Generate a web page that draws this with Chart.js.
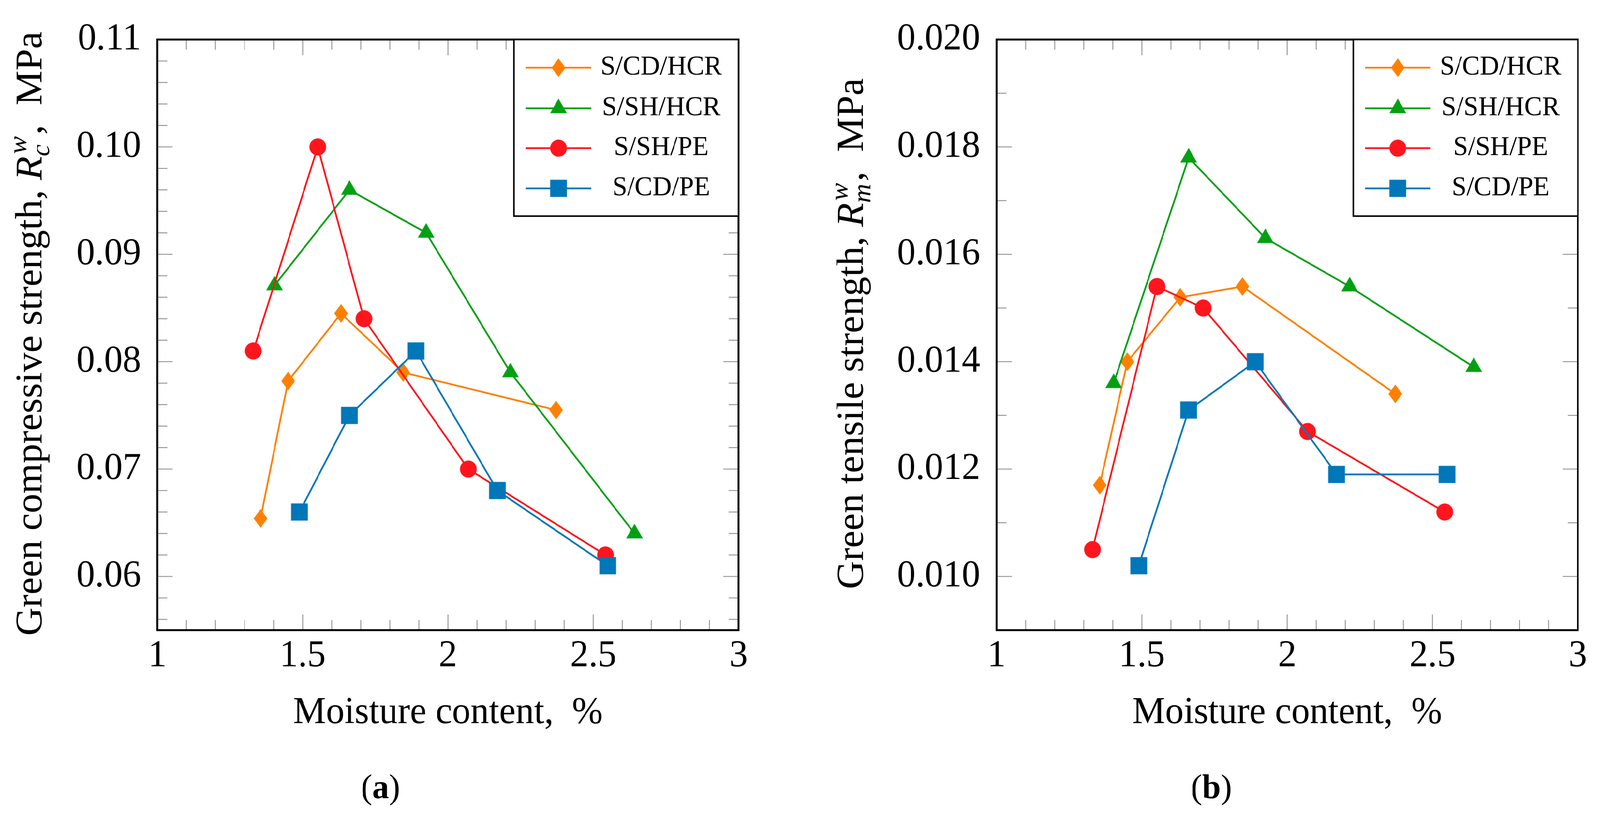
<!DOCTYPE html>
<html>
<head>
<meta charset="utf-8">
<script src="https://cdn.jsdelivr.net/npm/chart.js@4.4.0/dist/chart.umd.min.js"></script>
<style>
html, body { margin: 0; padding: 0; background: #fff; overflow: hidden; }
#page { position: absolute; left: 0; top: 0; width: 4204px; height: 2099px; transform-origin: 0 0; }
#wrapA { position: absolute; left: 0; top: 0; width: 2100px; height: 2099px; }
#wrapB { position: absolute; left: 2100px; top: 0; width: 2104px; height: 2099px; }
</style>
</head>
<body>
<div id="page">
<div id="wrapA"><canvas id="chartA"></canvas></div>
<div id="wrapB"><canvas id="chartB"></canvas></div>
</div>
<script>
// the viewport may be narrower than 4204px: fit the page into it
(function () {
    var sx = window.innerWidth / 4204, sy = window.innerHeight / 2099;
    if (Math.abs(sx - 1) > 0.002 || Math.abs(sy - 1) > 0.002) {
        document.getElementById('page').style.transform = 'scale(' + sx + ',' + sy + ')';
    }
})();

// series names / colours
var seriesNames = ['S/CD/HCR', 'S/SH/HCR', 'S/SH/PE', 'S/CD/PE'];
var seriesColors = ['#ff8000', '#00a012', '#ff151d', '#0077b8'];

// moisture content, %
var moistCDHCR = [1.355, 1.45, 1.632, 1.846, 2.372];
var moistSHHCR = [1.403, 1.661, 1.925, 2.215, 2.642];
var moistSHPE  = [1.33, 1.552, 1.711, 2.07, 2.542];
var moistCDPE  = [1.489, 1.661, 1.89, 2.17, 2.55];

// green compressive strength, MPa
var compCDHCR = [0.0654, 0.0782, 0.0845, 0.0790, 0.0755];
var compSHHCR = [0.0871, 0.0960, 0.0920, 0.0790, 0.0640];
var compSHPE  = [0.0810, 0.1000, 0.0840, 0.0700, 0.0620];
var compCDPE  = [0.0660, 0.0750, 0.0810, 0.0680, 0.0610];

// green tensile strength, MPa
var tensCDHCR = [0.0117, 0.0140, 0.0152, 0.0154, 0.0134];
var tensSHHCR = [0.0136, 0.0178, 0.0163, 0.0154, 0.0139];
var tensSHPE  = [0.0105, 0.0154, 0.0150, 0.0127, 0.0112];
var tensCDPE  = [0.0102, 0.0131, 0.0140, 0.0119, 0.0119];

// ticks
var xTicks = [1, 1.5, 2, 2.5, 3];
var xTickLabels = ['1', '1.5', '2', '2.5', '3'];
var compTicks = [0.06, 0.07, 0.08, 0.09, 0.10, 0.11];
var compTickLabels = ['0.06', '0.07', '0.08', '0.09', '0.10', '0.11'];
var tensTicks = [0.010, 0.012, 0.014, 0.016, 0.018, 0.020];
var tensTickLabels = ['0.010', '0.012', '0.014', '0.016', '0.018', '0.020'];

var SERIF = "'Liberation Serif', 'DejaVu Serif', serif";

// marker pictures (pgfplots style marks)
function markerCanvas(shape, color) {
    var c = document.createElement('canvas');
    var w = 45, h = 45;
    if (shape === 'diamond') { w = 36; h = 48; }
    if (shape === 'triangle') { w = 44; h = 50; }
    c.width = w; c.height = h;
    var g = c.getContext('2d');
    g.fillStyle = color;
    g.beginPath();
    if (shape === 'diamond') {
        g.moveTo(w / 2, 0); g.lineTo(w, h / 2); g.lineTo(w / 2, h); g.lineTo(0, h / 2);
    } else if (shape === 'triangle') {
        g.moveTo(w / 2, 0); g.lineTo(w, 37.5); g.lineTo(0, 37.5);
    } else if (shape === 'circle') {
        g.arc(w / 2, h / 2, 22, 0, Math.PI * 2);
    } else {
        g.rect(0.5, 0.5, 44, 44);
    }
    g.closePath();
    g.fill();
    return c;
}
var markers = [
    markerCanvas('diamond', seriesColors[0]),
    markerCanvas('triangle', seriesColors[1]),
    markerCanvas('circle', seriesColors[2]),
    markerCanvas('square', seriesColors[3])
];

function pts(xs, ys) {
    return xs.map(function (x, i) { return { x: x, y: ys[i] }; });
}

function makeDatasets(xsList, ysList) {
    return xsList.map(function (xs, i) {
        return {
            label: seriesNames[i],
            data: pts(xs, ysList[i]),
            borderColor: seriesColors[i],
            backgroundColor: seriesColors[i],
            borderWidth: 4.5,
            pointStyle: markers[i],
            pointRadius: 22,
            pointHoverRadius: 22,
            tension: 0,
            fill: false,
            order: 4 - i // later series on top, like pgfplots
        };
    });
}

function range(start, stop, step) {
    var out = [];
    var n = Math.round((stop - start) / step);
    for (var i = 0; i <= n; i++) out.push(+(start + i * step).toFixed(6));
    return out;
}

// frame, inward ticks on all four sides, legend and titles
var framePlugin = {
    id: 'frame',
    beforeDatasetsDraw: function (chart, args, o) {
        var ctx = chart.ctx, a = chart.chartArea;
        var xs = chart.scales.x, ys = chart.scales.y;
        ctx.save();
        ctx.strokeStyle = '#8c8c8c';
        ctx.lineWidth = 2.2;
        ctx.beginPath();
        o.xMinor.forEach(function (v) {
            var len = xTicks.indexOf(v) >= 0 ? 40 : 26;
            var px = xs.getPixelForValue(v);
            ctx.moveTo(px, a.bottom); ctx.lineTo(px, a.bottom - len);
            ctx.moveTo(px, a.top); ctx.lineTo(px, a.top + len);
        });
        o.yMinor.forEach(function (v) {
            var major = o.yMajor.some(function (m) { return Math.abs(m - v) < 1e-7; });
            var len = major ? 40 : 26;
            var py = ys.getPixelForValue(v);
            ctx.moveTo(a.left, py); ctx.lineTo(a.left + len, py);
            ctx.moveTo(a.right, py); ctx.lineTo(a.right - len, py);
        });
        ctx.stroke();
        ctx.restore();
    },
    afterDraw: function (chart, args, o) {
        var ctx = chart.ctx, a = chart.chartArea;
        ctx.save();
        // frame
        ctx.strokeStyle = '#000';
        ctx.lineWidth = 5;
        ctx.strokeRect(a.left, a.top, a.right - a.left, a.bottom - a.top);

        // legend box
        var bw = 590, bh = 452, bx = a.right - bw, by = a.top;
        ctx.fillStyle = '#fff';
        ctx.fillRect(bx, by, bw, bh);
        ctx.lineWidth = 4;
        ctx.strokeRect(bx, by, bw, bh);
        var rows = [72, 176, 278, 381];
        ctx.font = '70px ' + SERIF;
        ctx.textAlign = 'center';
        ctx.textBaseline = 'alphabetic';
        seriesNames.forEach(function (name, i) {
            var ry = by + rows[i];
            ctx.strokeStyle = seriesColors[i];
            ctx.lineWidth = 4.5;
            ctx.beginPath();
            ctx.moveTo(bx + 31, ry); ctx.lineTo(bx + 203, ry);
            ctx.stroke();
            var m = markers[i];
            ctx.drawImage(m, bx + 117 - m.width / 2, ry - m.height / 2);
            ctx.fillStyle = '#000';
            ctx.fillText(name, bx + 387, ry + 18);
        });

        // x title
        ctx.fillStyle = '#000';
        ctx.font = '97px ' + SERIF;
        ctx.textAlign = 'center';
        ctx.fillText('Moisture content,  %', (a.left + a.right) / 2, 1851);

        // panel label
        ctx.textAlign = 'left';
        ctx.font = '88px ' + SERIF;
        var wo = ctx.measureText('(').width, wc = ctx.measureText(')').width;
        ctx.font = 'bold 88px ' + SERIF;
        var wl = ctx.measureText(o.panel).width;
        var sx = o.panelX - (wo + wl + wc) / 2;
        ctx.font = '88px ' + SERIF;
        ctx.fillText('(', sx, 2043);
        ctx.font = 'bold 88px ' + SERIF;
        ctx.fillText(o.panel, sx + wo, 2043);
        ctx.font = '88px ' + SERIF;
        ctx.fillText(')', sx + wo + wl, 2043);

        // y title with R^w_sub
        var fMain = '100px ' + SERIF, fR = 'italic 100px ' + SERIF, fS = 'italic 68px ' + SERIF;
        ctx.font = fMain;
        var w1 = ctx.measureText(o.yMain).width, w3 = ctx.measureText(o.yTail).width;
        ctx.font = fR;
        var w2 = ctx.measureText('R').width;
        ctx.font = fS;
        var wSup = ctx.measureText('w').width, wSub = ctx.measureText(o.ySub).width;
        var wScr = Math.max(wSup + 6, wSub) + 4;
        var total = w1 + w2 + wScr + w3;
        ctx.translate(o.yTitleX, (a.top + a.bottom) / 2 - 3);
        ctx.rotate(-Math.PI / 2);
        var cx = -total / 2;
        ctx.font = fMain; ctx.fillText(o.yMain, cx, 0); cx += w1;
        ctx.font = fR; ctx.fillText('R', cx, 0); cx += w2;
        ctx.font = fS;
        ctx.fillText('w', cx + 6, -40);
        ctx.fillText(o.ySub, cx, 20);
        cx += wScr;
        ctx.font = fMain; ctx.fillText(o.yTail, cx, 0);
        ctx.restore();
    }
};

function makeChart(id, datasets, yMin, yMax, yTicks, yLabels, yAxisWidth, padRight, frameOpts) {
    return new Chart(document.getElementById(id), {
        type: 'line',
        data: { datasets: datasets },
        plugins: [framePlugin],
        options: {
            responsive: true,
            maintainAspectRatio: false,
            animation: false,
            devicePixelRatio: 2, // page gets scaled down a little, keep it sharp
            events: [],
            layout: { padding: { top: 85, right: padRight, left: 0, bottom: 0 } },
            plugins: {
                legend: { display: false },
                tooltip: { enabled: false },
                frame: frameOpts
            },
            scales: {
                x: {
                    type: 'linear',
                    min: 1, max: 3,
                    grid: { display: false, drawTicks: false },
                    border: { display: false },
                    afterBuildTicks: function (s) { s.ticks = xTicks.map(function (v) { return { value: v }; }); },
                    afterFit: function (s) { s.height = 486; },
                    ticks: {
                        autoSkip: false,
                        maxRotation: 0,
                        padding: 9,
                        color: '#000',
                        font: { family: SERIF, size: 97 },
                        callback: function (v, i) { return xTickLabels[i]; }
                    }
                },
                y: {
                    type: 'linear',
                    min: yMin, max: yMax,
                    grid: { display: false, drawTicks: false },
                    border: { display: false },
                    afterBuildTicks: function (s) { s.ticks = yTicks.map(function (v) { return { value: v }; }); },
                    afterFit: function (s) { s.width = yAxisWidth; },
                    ticks: {
                        autoSkip: false,
                        padding: 43,
                        color: '#000',
                        font: { family: SERIF, size: 97 },
                        callback: function (v, i) { return yLabels[i]; }
                    }
                }
            }
        }
    });
}

makeChart('chartA',
    makeDatasets([moistCDHCR, moistSHHCR, moistSHPE, moistCDPE], [compCDHCR, compSHHCR, compSHPE, compCDPE]),
    0.055, 0.11, compTicks, compTickLabels, 413.5, 159.5,
    {
        xMinor: range(1, 3, 0.1),
        yMinor: range(0.056, 0.11, 0.002),
        yMajor: compTicks,
        panel: 'a', panelX: 1000,
        yMain: 'Green compressive strength, ', ySub: 'c', yTail: ',  MPa', yTitleX: 109
    });

makeChart('chartB',
    makeDatasets([moistCDHCR, moistSHHCR, moistSHPE, moistCDPE], [tensCDHCR, tensSHHCR, tensSHPE, tensCDPE]),
    0.009, 0.020, tensTicks, tensTickLabels, 518.5, 58.3,
    {
        xMinor: range(1, 3, 0.1),
        yMinor: range(0.009, 0.020, 0.001),
        yMajor: tensTicks,
        panel: 'b', panelX: 1083,
        yMain: 'Green tensile strength, ', ySub: 'm', yTail: ',  MPa', yTitleX: 167
    });
</script>
</body>
</html>
